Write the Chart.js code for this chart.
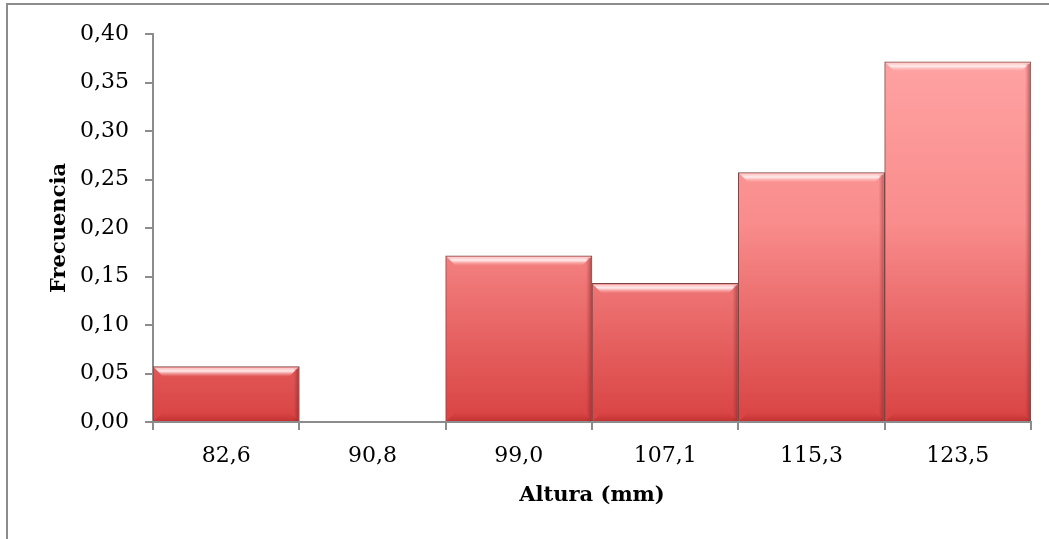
<!DOCTYPE html>
<html>
<head>
<meta charset="utf-8">
<script src="https://cdn.jsdelivr.net/npm/chart.js@4/dist/chart.umd.min.js"></script>
<style>
  html, body { margin: 0; padding: 0; background: #ffffff; }
  #wrap { width: 1049px; height: 539px; position: relative; }
</style>
</head>
<body>
<div id="wrap"><canvas id="c" width="1049" height="539"></canvas></div>
<script>
const categories = ["82,6", "90,8", "99,0", "107,1", "115,3", "123,5"];
const frecuencia = [0.0571, 0, 0.1714, 0.1429, 0.2571, 0.3714];
const yTickMin = 0;
const yTickMax = 0.40;
const yTickStep = 0.05;
const xTitle = "Altura (mm)";
const yTitle = "Frecuencia";

const framePlugin = {
  id: 'frame',
  beforeDraw(chart) {
    const ctx = chart.ctx;
    ctx.save();
    ctx.fillStyle = '#ffffff';
    ctx.fillRect(0, 0, chart.width, chart.height);
    ctx.strokeStyle = '#8c8c8c';
    ctx.lineWidth = 2;
    ctx.beginPath();
    ctx.moveTo(7, chart.height + 2);
    ctx.lineTo(7, 4);
    ctx.lineTo(chart.width + 2, 4);
    ctx.stroke();
    ctx.restore();
  }
};

const barStylePlugin = {
  id: 'barStyle',
  beforeDatasetsDraw(chart) {
    const ctx = chart.ctx;
    chart.getDatasetMeta(0).data.forEach(el => {
      const top = Math.min(el.y, el.base), bot = Math.max(el.y, el.base);
      if (bot - top < 1) return;
      const g = ctx.createLinearGradient(0, top, 0, bot);
      g.addColorStop(0, '#ffa2a2');
      g.addColorStop(0.45, '#f98c8c');
      g.addColorStop(1, '#d94343');
      el.options.backgroundColor = g;
    });
  },
  afterDatasetsDraw(chart) {
    const ctx = chart.ctx;
    ctx.save();
    chart.getDatasetMeta(0).data.forEach(el => {
      const top = Math.min(el.y, el.base), bot = Math.max(el.y, el.base);
      if (bot - top < 4) return;
      const x1 = el.x - el.width / 2 + 1, x2 = el.x + el.width / 2 - 1;
      const b = 9;
      const gt = ctx.createLinearGradient(0, top + 1, 0, top + 1 + b);
      gt.addColorStop(0, 'rgba(255,200,200,0.9)');
      gt.addColorStop(0.4, 'rgba(255,240,240,0.95)');
      gt.addColorStop(1, 'rgba(255,170,170,0)');
      ctx.fillStyle = gt;
      ctx.beginPath();
      ctx.moveTo(x1, top + 1);
      ctx.lineTo(x2, top + 1);
      ctx.lineTo(x2 - b, top + 1 + b);
      ctx.lineTo(x1 + b, top + 1 + b);
      ctx.closePath();
      ctx.fill();
      const gb = ctx.createLinearGradient(0, bot - b, 0, bot);
      gb.addColorStop(0, 'rgba(190,40,40,0)');
      gb.addColorStop(1, 'rgba(170,35,35,0.5)');
      ctx.fillStyle = gb;
      ctx.beginPath();
      ctx.moveTo(x1 + b, bot - b);
      ctx.lineTo(x2 - b, bot - b);
      ctx.lineTo(x2, bot);
      ctx.lineTo(x1, bot);
      ctx.closePath();
      ctx.fill();
      const gr = ctx.createLinearGradient(x2 - 5, 0, x2, 0);
      gr.addColorStop(0, 'rgba(150,40,40,0)');
      gr.addColorStop(1, 'rgba(120,30,30,0.45)');
      ctx.fillStyle = gr;
      ctx.fillRect(x2 - 5, top + 2, 5, bot - top - 2);
    });
    ctx.restore();
  }
};

new Chart(document.getElementById('c'), {
  type: 'bar',
  data: {
    labels: categories,
    datasets: [{
      data: frecuencia,
      backgroundColor: '#f08080',
      borderColor: '#7a4646',
      borderWidth: 1,
      barPercentage: 1.0,
      categoryPercentage: 1.0
    }]
  },
  options: {
    responsive: false,
    animation: false,
    devicePixelRatio: 1,
    layout: { padding: { left: 43, right: 18, top: 34, bottom: 27 } },
    plugins: {
      legend: { display: false },
      tooltip: { enabled: false }
    },
    scales: {
      x: {
        offset: true,
        grid: { offset: true, drawOnChartArea: false, color: '#8c8c8c', lineWidth: 2, tickLength: 8 },
        border: { color: '#8c8c8c', width: 2 },
        ticks: { color: '#000000', font: { family: 'DejaVu Serif', size: 22 }, padding: 13, maxRotation: 0 },
        title: { display: true, text: xTitle, color: '#000000', font: { family: 'DejaVu Serif', size: 21, weight: 'bold' }, padding: { top: 4, bottom: 4 } },
        afterFit(scale) { scale.height = 90; }
      },
      y: {
        min: yTickMin,
        max: yTickMax,
        grid: { drawOnChartArea: false, color: '#8c8c8c', lineWidth: 2, tickLength: 8 },
        border: { color: '#8c8c8c', width: 2 },
        ticks: {
          stepSize: yTickStep,
          color: '#000000',
          font: { family: 'DejaVu Serif', size: 22 },
          padding: 16,
          callback: v => v.toFixed(2).replace('.', ',')
        },
        title: { display: true, text: yTitle, color: '#000000', font: { family: 'DejaVu Serif', size: 21, weight: 'bold' }, padding: { top: 4, bottom: 4 } },
        afterFit(scale) { scale.width = 110; }
      }
    }
  },
  plugins: [framePlugin, barStylePlugin]
});
</script>
</body>
</html>
